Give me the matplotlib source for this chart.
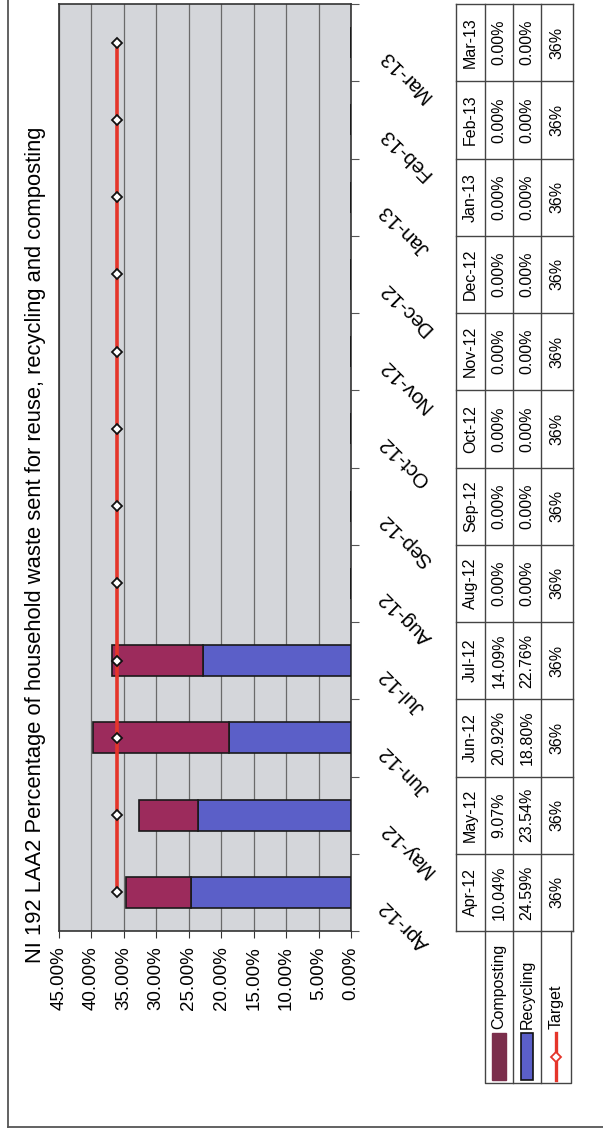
import numpy as np
import matplotlib
matplotlib.use("Agg")
import matplotlib.pyplot as plt
from matplotlib.patches import Rectangle
from matplotlib.lines import Line2D

plt.rcParams['font.family'] = ['Liberation Sans', 'DejaVu Sans']

meses = ["Apr-12", "May-12", "Jun-12", "Jul-12", "Aug-12", "Sep-12",
         "Oct-12", "Nov-12", "Dec-12", "Jan-13", "Feb-13", "Mar-13"]
compostagem = [10.04, 9.07, 20.92, 14.09, 0, 0, 0, 0, 0, 0, 0, 0]
reciclagem = [24.59, 23.54, 18.80, 22.76, 0, 0, 0, 0, 0, 0, 0, 0]
meta = [36] * 12
ticks_pct = [0, 5, 10, 15, 20, 25, 30, 35, 40, 45]
titulo = "NI 192 LAA2 Percentage of household waste sent for reuse, recycling and composting"

W, H = 603, 1132
cor_comp = "#9c2b5c"
cor_rec = "#5b5fc8"
cor_meta = "#e5352a"


def fx(x):
    return x / W


def fy(y):
    return 1 - y / H


fig = plt.figure(figsize=(W / 100, H / 100), dpi=100)

# camada em pixels para bordas e legenda
base = fig.add_axes([0, 0, 1, 1])
base.set_xlim(0, W)
base.set_ylim(H, 0)
base.set_axis_off()
base.plot([8, 8], [0, 1127], color="#555555", lw=1.3)
base.plot([8, W], [1127, 1127], color="#555555", lw=1.3)

# area do grafico (girada 90 graus)
x0, x1, y0, y1 = 59, 351, 4, 931
ax = fig.add_axes([fx(x0), fy(y1), fx(x1 - x0), (y1 - y0) / H])
pos = np.arange(len(meses))
ax.set_facecolor("#d4d6da")
ax.barh(pos, reciclagem, height=0.4, color=cor_rec, edgecolor="#1a1a1a", lw=1.2, zorder=3)
ax.barh(pos, compostagem, left=reciclagem, height=0.4, color=cor_comp,
        edgecolor="#1a1a1a", lw=1.2, zorder=3)
ax.plot(meta, pos, color=cor_meta, lw=2.6, marker="D", ms=5.5, mfc="white",
        mec="#111111", mew=1.3, zorder=4)
ax.set_xlim(45, 0)
ax.set_ylim(-0.5, len(meses) - 0.5)
ax.set_xticks(ticks_pct)
ax.set_xticklabels([f"{v:.2f}%" for v in ticks_pct], rotation=90, fontsize=13.5)
ax.tick_params(axis="x", direction="out", length=5, pad=6, color="#333333")
ax.grid(axis="x", color="#6a6a6a", lw=0.9, zorder=1)
ax.set_axisbelow(True)
ax.yaxis.tick_right()
ax.set_yticks(np.arange(-0.5, len(meses), 1))
ax.set_yticklabels([])
ax.tick_params(axis="y", direction="out", length=6, color="#555555")
for s in ax.spines.values():
    s.set_color("#333333")
    s.set_linewidth(1.2)

for i, m in enumerate(meses):
    ax.text((383 - x0) / (x1 - x0), i - 0.14, m, transform=ax.get_yaxis_transform(),
            rotation=135, rotation_mode="anchor", ha="right", va="center",
            fontsize=14.8, clip_on=False)

fig.text(fx(36), fy(963), titulo, rotation=90, ha="center", va="bottom", fontsize=15.85)

# tabela de dados
col_x = [456, 485, 513, 541, 573]
tab = fig.add_axes([fx(col_x[0]), fy(y1), fx(col_x[-1] - col_x[0]), (y1 - y0) / H])
tab.set_xlim(col_x[0], col_x[-1])
tab.set_ylim(ax.get_ylim())
tab.set_axis_off()
for yy in np.arange(-0.5, len(meses), 1):
    tab.plot([col_x[0], col_x[-1]], [yy, yy], color="#444444", lw=1.0, clip_on=False)
for xx in col_x:
    tab.plot([xx, xx], [-0.5, len(meses) - 0.5], color="#444444", lw=1.0, clip_on=False)
cx = [(a + b) / 2 for a, b in zip(col_x[:-1], col_x[1:])]
for i, m in enumerate(meses):
    linhas = [m, f"{compostagem[i]:.2f}%", f"{reciclagem[i]:.2f}%", f"{meta[i]}%"]
    for c, t in zip(cx, linhas):
        tab.text(c, i, t, rotation=90, ha="center", va="center", fontsize=11.5)

# legenda como cabecalho das linhas da tabela
leg_x = [485, 513, 541, 571]
base.plot([leg_x[0], leg_x[0], leg_x[-1], leg_x[-1]], [931, 1083, 1083, 931],
          color="#444444", lw=1.0)
for xx in leg_x[1:-1]:
    base.plot([xx, xx], [931, 1083], color="#444444", lw=1.0)
nomes = ["Composting", "Recycling", "Target"]
lc = [(a + b) / 2 for a, b in zip(leg_x[:-1], leg_x[1:])]
for c, n in zip(lc, nomes):
    base.text(c, 1029, n, rotation=90, ha="center", va="bottom", fontsize=11.5)
base.add_patch(Rectangle((lc[0] - 7, 1033), 14, 47, color="#7b2e4c"))
base.add_patch(Rectangle((lc[1] - 6, 1033), 12, 47, facecolor=cor_rec, edgecolor="#111111", lw=1.2))
base.add_line(Line2D([lc[2], lc[2]], [1033, 1080], color=cor_meta, lw=2.4))
base.plot([lc[2]], [1057], marker="D", ms=5, mfc="white", mec=cor_meta, mew=1.3)

fig.savefig("out.png", dpi=100)
